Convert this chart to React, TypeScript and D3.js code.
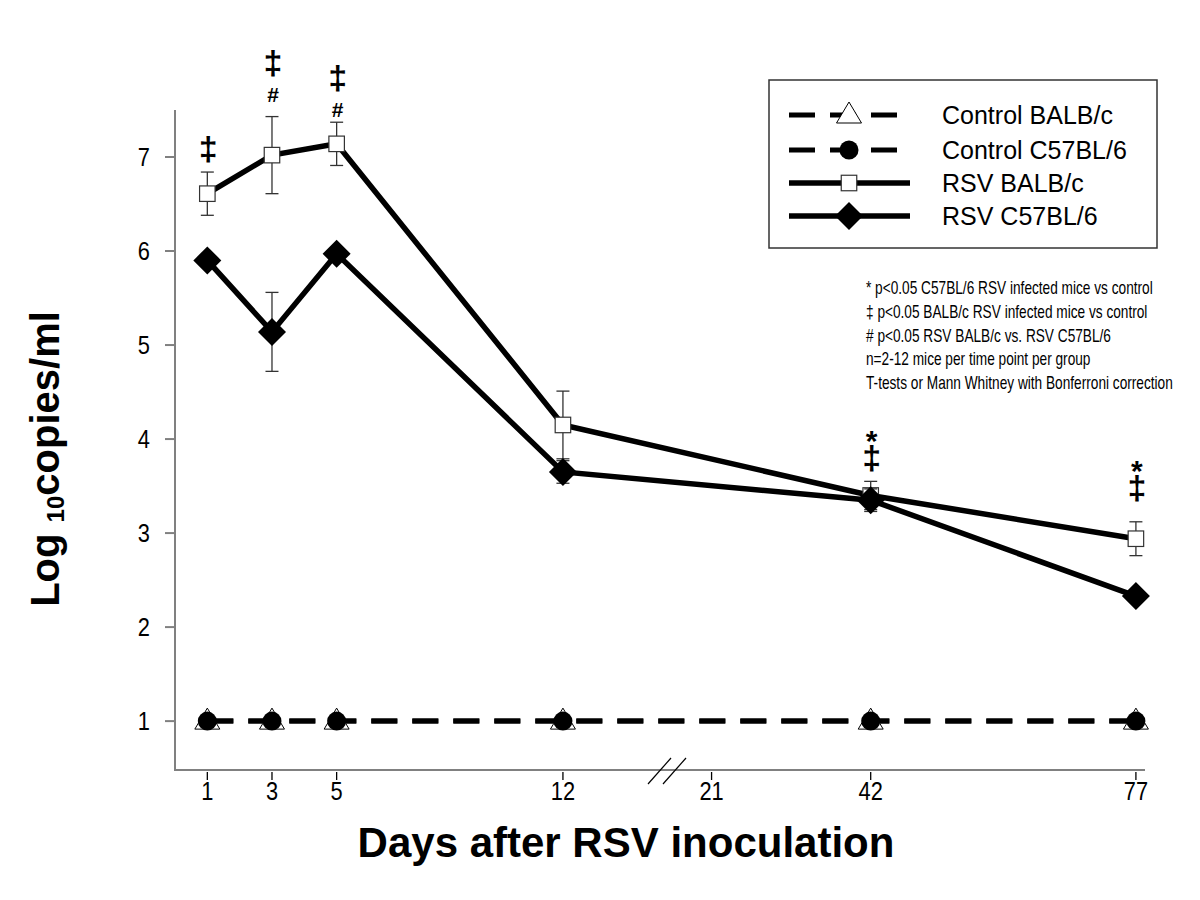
import React from "react";
import * as d3 from "d3";

// ---------- data ----------
const days = [1, 3, 5, 12, 42, 77];
const xTickDays = [1, 3, 5, 12, 21, 42, 77];
const yTicks = [1, 2, 3, 4, 5, 6, 7];

const controlBalbc = [1, 1, 1, 1, 1, 1];
const controlC57 = [1, 1, 1, 1, 1, 1];
const rsvBalbc = [6.61, 7.02, 7.14, 4.15, 3.4, 2.94];
const rsvBalbcErr = [0.23, 0.41, 0.23, 0.36, 0.15, 0.18];
const rsvC57 = [5.9, 5.14, 5.97, 3.65, 3.35, 2.33];
const rsvC57Err = [0, 0.42, 0, 0.12, 0.12, 0];

const legendLabels = ["Control BALB/c", "Control C57BL/6", "RSV BALB/c", "RSV C57BL/6"];
const notes = [
  "* p<0.05  C57BL/6 RSV infected mice vs control",
  "\u2021 p<0.05 BALB/c RSV infected mice vs control",
  "# p<0.05 RSV BALB/c vs. RSV C57BL/6",
  "n=2-12 mice per time point per group",
  "T-tests or Mann Whitney with Bonferroni correction",
];
// significance marks: symbol, day, level (in data units of the y axis)
const sigSymbols = ["\u2021", "\u2021", "#", "\u2021", "#", "*", "\u2021", "*", "\u2021"];
const sigDay = [1, 3, 3, 5, 5, 42, 42, 77, 77];
const sigLevel = [7.07, 7.99, 7.66, 7.83, 7.5, 4.05, 3.79, 3.74, 3.47];

const FONT = "'Liberation Sans', Arial, Helvetica, sans-serif";

// ---------- scales ----------
// broken x axis: piecewise linear scale (break between 12 and 21)
const x = d3.scaleLinear().domain([0, 15.25, 78.2]).range([175, 668, 1145]);
const y = d3.scaleLinear().domain([0.48, 7.5]).range([770, 110]);

const lineGen = d3
  .line<[number, number]>()
  .x((d) => x(d[0]))
  .y((d) => y(d[1]));

const pts = (vals: number[]) => days.map((d, i) => [d, vals[i]] as [number, number]);

const trianglePath = "M0,-13L12.5,8L-12.5,8Z";
const diamondPath = "M0,-14L14,0L0,14L-14,0Z";

function Tri({ cx, cy }: { cx: number; cy: number }) {
  return <path d={trianglePath} transform={`translate(${cx},${cy})`} fill="#fff" stroke="#000" strokeWidth={1} />;
}
function Dot({ cx, cy }: { cx: number; cy: number }) {
  return <circle cx={cx} cy={cy} r={9.5} fill="#000" />;
}
function Sq({ cx, cy }: { cx: number; cy: number }) {
  return <rect x={cx - 7.75} y={cy - 7.75} width={15.5} height={15.5} fill="#fff" stroke="#333" strokeWidth={1.2} />;
}
function Dia({ cx, cy }: { cx: number; cy: number }) {
  return <path d={diamondPath} transform={`translate(${cx},${cy})`} fill="#000" />;
}

function NText({ x: tx, y: ty, sx, children, anchor = "start", size, weight = "normal" }: any) {
  return (
    <text
      transform={`translate(${tx},${ty}) scale(${sx},1)`}
      textAnchor={anchor}
      fontFamily={FONT}
      fontSize={size}
      fontWeight={weight}
      fill="#000"
    >
      {children}
    </text>
  );
}

function ErrBars({ vals, errs }: { vals: number[]; errs: number[] }) {
  return (
    <g stroke="#333" strokeWidth={1.3}>
      {days.map((d, i) =>
        errs[i] > 0 ? (
          <g key={i}>
            <line x1={x(d)} x2={x(d)} y1={y(vals[i] + errs[i])} y2={y(vals[i] - errs[i])} />
            <line x1={x(d) - 6.5} x2={x(d) + 6.5} y1={y(vals[i] + errs[i])} y2={y(vals[i] + errs[i])} />
            <line x1={x(d) - 6.5} x2={x(d) + 6.5} y1={y(vals[i] - errs[i])} y2={y(vals[i] - errs[i])} />
          </g>
        ) : null
      )}
    </g>
  );
}

// font size and baseline offset (from glyph centre) for each mark symbol
const markStyle: Record<string, { size: number; off: number }> = {
  "\u2021": { size: 34, off: 10 },
  "#": { size: 21, off: 7 },
  "*": { size: 30, off: 17 },
};

export default function App() {
  const x0 = x.range()[0];
  const x1 = x.range()[2];
  const yb = y.range()[0];
  const yt = y.range()[1];
  const breakX = x(15.25);
  const legX = 769;
  const legRows = [115, 150, 183, 216];

  return (
    <svg width={1200} height={900} style={{ position: "absolute", left: 0, top: 0, background: "#fff" }}>
      <rect width={1200} height={900} fill="#fff" />

      {/* axes */}
      <line x1={x0} x2={x0} y1={yt} y2={yb} stroke="#808080" strokeWidth={2} />
      <line x1={x0 - 1} x2={x1} y1={yb} y2={yb} stroke="#808080" strokeWidth={2} />
      {yTicks.map((t) => (
        <g key={t}>
          <line x1={x0 - 10} x2={x0} y1={y(t)} y2={y(t)} stroke="#808080" strokeWidth={2} />
          <NText x={150} y={y(t) + 9} sx={0.84} anchor="end" size={26}>
            {t}
          </NText>
        </g>
      ))}
      {xTickDays.map((t) => (
        <g key={t}>
          <line x1={x(t)} x2={x(t)} y1={yb + 2} y2={yb + 10} stroke="#000" strokeWidth={1.3} />
          <NText x={x(t)} y={yb + 30} sx={0.84} anchor="middle" size={26}>
            {t}
          </NText>
        </g>
      ))}
      {/* axis break marks */}
      <g stroke="#000" strokeWidth={1.2}>
        <line x1={breakX - 20} x2={breakX + 3} y1={yb + 14} y2={yb - 12} />
        <line x1={breakX - 5} x2={breakX + 18} y1={yb + 14} y2={yb - 12} />
      </g>

      {/* axis titles */}
      <text x={626} y={857} textAnchor="middle" fontFamily={FONT} fontSize={42} fontWeight="bold">
        Days after RSV inoculation
      </text>
      <text transform="translate(59,459) rotate(-90)" textAnchor="middle" fontFamily={FONT} fontSize={40} fontWeight="bold">
        Log{" "}
        <tspan fontSize={24} dy={5}>
          10
        </tspan>
        <tspan dy={-5}>copies/ml</tspan>
      </text>

      {/* control series */}
      <path d={lineGen(pts(controlBalbc)) || ""} fill="none" stroke="#000" strokeWidth={5} strokeDasharray="26,15" />
      <path d={lineGen(pts(controlC57)) || ""} fill="none" stroke="#000" strokeWidth={5} strokeDasharray="26,15" />
      {days.map((d, i) => (
        <Tri key={"t" + i} cx={x(d)} cy={y(controlBalbc[i])} />
      ))}
      {days.map((d, i) => (
        <Dot key={"c" + i} cx={x(d)} cy={y(controlC57[i])} />
      ))}

      {/* RSV BALB/c */}
      <path d={lineGen(pts(rsvBalbc)) || ""} fill="none" stroke="#000" strokeWidth={5.5} strokeLinejoin="miter" />
      <ErrBars vals={rsvBalbc} errs={rsvBalbcErr} />
      {days.map((d, i) => (
        <Sq key={"s" + i} cx={x(d)} cy={y(rsvBalbc[i])} />
      ))}

      {/* RSV C57BL/6 */}
      <path d={lineGen(pts(rsvC57)) || ""} fill="none" stroke="#000" strokeWidth={5.5} strokeLinejoin="miter" />
      <ErrBars vals={rsvC57} errs={rsvC57Err} />
      {days.map((d, i) => (
        <Dia key={"d" + i} cx={x(d)} cy={y(rsvC57[i])} />
      ))}

      {/* significance marks */}
      {sigSymbols.map((m, i) => {
        const st = markStyle[m];
        return (
          <text
            key={"sig" + i}
            x={x(sigDay[i]) + 1}
            y={y(sigLevel[i]) + st.off}
            textAnchor="middle"
            fontFamily={FONT}
            fontSize={st.size}
            fontWeight="bold"
          >
            {m}
          </text>
        );
      })}

      {/* legend */}
      <rect x={legX} y={80} width={388} height={168} fill="#fff" stroke="#333" strokeWidth={1.5} />
      {legendLabels.map((lab, i) => {
        const ry = legRows[i];
        const dashed = i < 2;
        return (
          <g key={lab}>
            <line
              x1={789}
              x2={dashed ? 897 : 910}
              y1={ry}
              y2={ry}
              stroke="#000"
              strokeWidth={dashed ? 5 : 5.5}
              strokeDasharray={dashed ? "26,15" : undefined}
            />
            {i === 0 && <Tri cx={849} cy={ry} />}
            {i === 1 && <Dot cx={849} cy={ry} />}
            {i === 2 && <Sq cx={849} cy={ry} />}
            {i === 3 && <Dia cx={849} cy={ry} />}
            <text x={942} y={ry + 9} fontFamily={FONT} fontSize={25} fill="#000">
              {lab}
            </text>
          </g>
        );
      })}

      {/* notes */}
      {notes.map((n, i) => (
        <NText key={i} x={866} y={294 + i * 23.8} sx={0.76} size={18}>
          {n}
        </NText>
      ))}
    </svg>
  );
}
